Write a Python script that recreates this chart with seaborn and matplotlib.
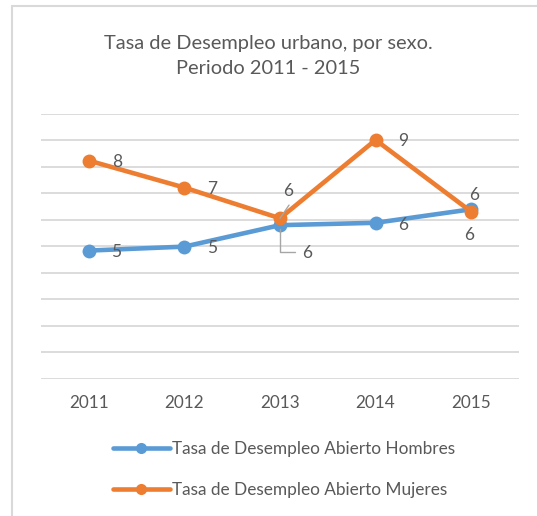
import pandas as pd
import matplotlib.pyplot as plt
import seaborn as sns
from matplotlib.lines import Line2D

# datos
anios = ["2011", "2012", "2013", "2014", "2015"]
hombres = [4.84, 4.99, 5.80, 5.89, 6.40]
mujeres = [8.24, 7.22, 6.06, 9.02, 6.31]
serie_h = "Tasa de Desempleo Abierto Hombres"
serie_m = "Tasa de Desempleo Abierto Mujeres"

df = pd.DataFrame({
    "Año": anios * 2,
    "Tasa": hombres + mujeres,
    "Serie": [serie_h] * len(anios) + [serie_m] * len(anios),
})

sns.set_style("white")
plt.rcParams["font.family"] = ["Lato", "DejaVu Sans"]
gris = "#595959"
colores = {serie_h: "#5B9BD5", serie_m: "#ED7D31"}
fs = 12.5

fig = plt.figure(figsize=(5.37, 5.16), dpi=100)
ax = fig.add_axes([41 / 537, 1 - 378.7 / 516, 478 / 537, (378.7 - 114) / 516])

sns.lineplot(data=df, x="Año", y="Tasa", hue="Serie", palette=colores,
             marker="o", markersize=10, markeredgewidth=0, linewidth=3.3,
             ax=ax, legend=True)

ax.set_ylim(0, 10)
ax.set_yticks(range(0, 11))
ax.set_xlim(-0.5, 4.5)
ax.grid(axis="y", color="#d9d9d9", linewidth=1.3)
ax.set_axisbelow(True)
ax.tick_params(axis="y", left=False, labelleft=False)
ax.tick_params(axis="x", length=0, pad=12, labelsize=12.3, labelcolor=gris)
ax.set_xlabel("")
ax.set_ylabel("")
for s in ax.spines.values():
    s.set_visible(False)

# etiquetas de datos (desplazamientos en puntos)
off_h = [(19.5, -0.7), (20, -1.2), None, (19.7, -1.7), (2.2, 10.3)]
off_m = [(20.2, -0.7), (20, -1.2), (6.2, 19.9), (19.7, -0.5), (-1.2, -16.8)]
for i, v in enumerate(hombres):
    if off_h[i] is None:
        continue
    ax.annotate(f"{v:.0f}", (i, v), xytext=off_h[i], textcoords="offset points",
                ha="center", va="center", fontsize=fs, color=gris)
for i, v in enumerate(mujeres):
    ax.annotate(f"{v:.0f}", (i, v), xytext=off_m[i], textcoords="offset points",
                ha="center", va="center", fontsize=fs, color=gris)

# lineas guia en 2013
ax.annotate("", (2, mujeres[2]), xytext=(6.5, 9.5), textcoords="offset points",
            arrowprops=dict(arrowstyle="-", color="#a6a6a6", lw=1,
                            shrinkA=0, shrinkB=0))
ax.annotate(f"{hombres[2]:.0f}", (2, hombres[2]), xytext=(19.6, -20.2),
            textcoords="offset points", ha="center", va="center",
            fontsize=fs, color=gris)
ax.annotate("", (2, hombres[2]), xytext=(10.5, -19), textcoords="offset points",
            arrowprops=dict(arrowstyle="-", color="#a6a6a6", lw=1,
                            shrinkA=0, shrinkB=3,
                            connectionstyle="angle,angleA=0,angleB=90,rad=0"))

# titulo
fig.text(0.5, 1 - 56 / 516, "Tasa de Desempleo urbano, por sexo.\nPeriodo 2011 - 2015",
         ha="center", va="center", fontsize=14.4, color=gris, linespacing=1.6)

# leyenda
handles, labels = ax.get_legend_handles_labels()
for h in handles:
    h.set_markersize(8)
ax.get_legend().remove()
fig.legend(handles, labels, loc="center left", bbox_to_anchor=(113 / 537, 1 - 469.5 / 516),
           frameon=False, fontsize=12.4, labelcolor=gris, handlelength=3.3,
           handletextpad=0.15, labelspacing=1.4, borderpad=0, borderaxespad=0)

# borde del area del grafico
fig.add_artist(Line2D([12 / 537, 12 / 537], [0, 1 - 6 / 516], color="#d9d9d9", lw=1.5))
fig.add_artist(Line2D([12 / 537, 1], [1 - 6 / 516, 1 - 6 / 516], color="#d9d9d9", lw=1.5))

fig.savefig("out.png", dpi=100)
